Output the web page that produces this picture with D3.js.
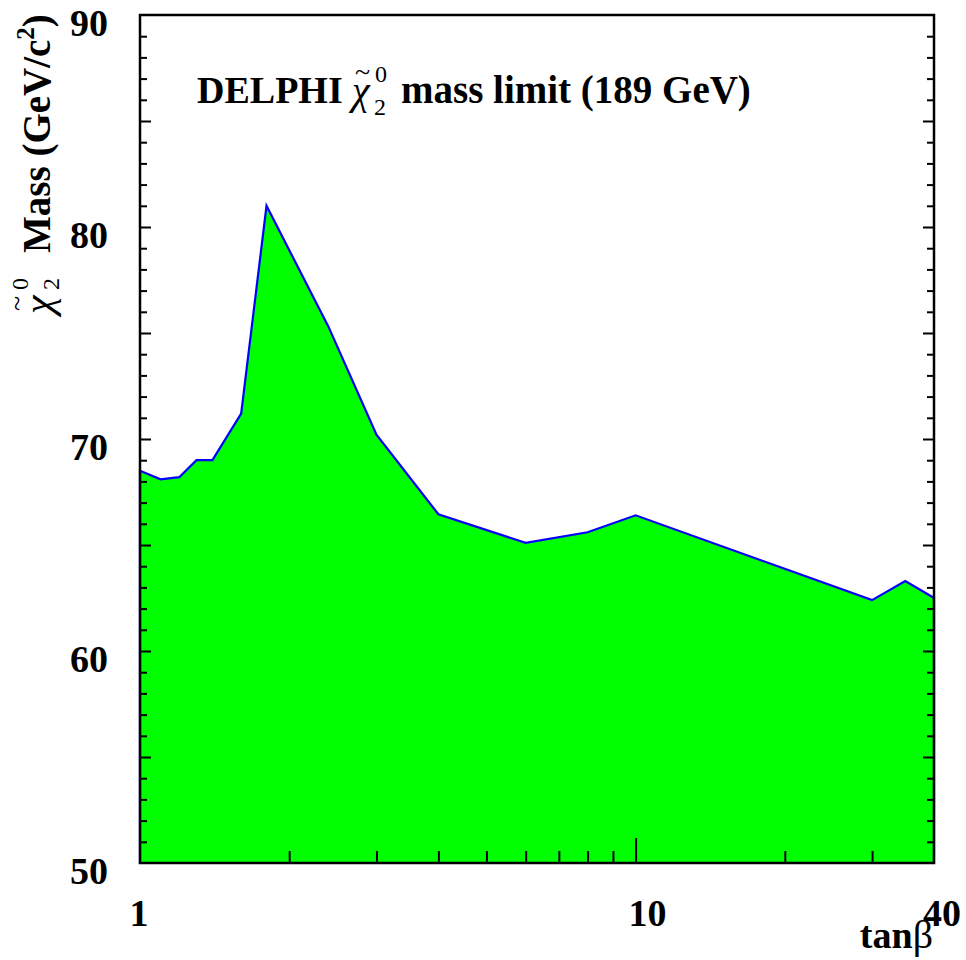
<!DOCTYPE html>
<html>
<head>
<meta charset="utf-8">
<script src="https://cdn.jsdelivr.net/npm/d3@7"></script>
<style>
  body { margin: 0; background: #fff; }
  text { font-family: 'Liberation Serif', 'Times New Roman', serif; }
</style>
</head>
<body>
<div id="chart"></div>
<script>
// chi2 mass limit vs tan(beta)
const tanBeta = [1, 1.1, 1.2, 1.3, 1.4, 1.6, 1.8, 2.4, 3, 4, 6, 8, 10, 30, 35, 40]
const massLimit = [68.5, 68.1, 68.2, 69.0, 69.0, 71.2, 81.0, 75.3, 70.2, 66.45, 65.1, 65.6, 66.4, 62.4, 63.3, 62.5]

const xMinorTicks = [2, 3, 4, 5, 6, 7, 8, 9, 20, 30]
const xMajorTicks = [10]
const xTickLabels = [1, 10, 40]
const yMajorTicks = [55, 60, 65, 70, 75, 80, 85]
const yMinorTicks = d3.range(51, 90).filter((v) => v % 5 !== 0)
const yTickLabels = [50, 60, 70, 80, 90]

const width = 966
const height = 960
const margin = { top: 15, right: 32, bottom: 97, left: 140 }

const svg = d3
  .select('#chart')
  .append('svg')
  .attr('width', width)
  .attr('height', height)

svg.append('rect').attr('width', width).attr('height', height).attr('fill', '#fff')

const x = d3
  .scaleLog()
  .domain([1, 40])
  .range([margin.left, width - margin.right])
const y = d3
  .scaleLinear()
  .domain([50, 90])
  .range([height - margin.bottom, margin.top])

const data = tanBeta.map((t, i) => ({ t, m: massLimit[i] }))

const area = d3
  .area()
  .x((d) => x(d.t))
  .y0(y(50))
  .y1((d) => y(d.m))

svg
  .append('path')
  .datum(data)
  .attr('d', area)
  .attr('fill', '#00ff00')
  .attr('stroke', '#0000ff')
  .attr('stroke-width', 2.2)

// ticks, all pointing into the frame
const tickAxis = (axis, values, size) =>
  axis.tickValues(values).tickSize(size).tickFormat('')

const drawTicks = (axis, tx, ty) => {
  const g = svg
    .append('g')
    .attr('transform', `translate(${tx},${ty})`)
    .call(axis)
  g.select('.domain').remove()
  g.selectAll('line').attr('stroke', '#000').attr('stroke-width', 2)
}

drawTicks(tickAxis(d3.axisRight(y), yMajorTicks, 11), x(1), 0)
drawTicks(tickAxis(d3.axisRight(y), yMinorTicks, 7), x(1), 0)
drawTicks(tickAxis(d3.axisLeft(y), yMajorTicks, 11), x(40), 0)
drawTicks(tickAxis(d3.axisLeft(y), yMinorTicks, 7), x(40), 0)
drawTicks(tickAxis(d3.axisTop(x), xMinorTicks, 12), 0, y(50))
drawTicks(tickAxis(d3.axisTop(x), xMajorTicks, 25), 0, y(50))

// frame
svg
  .append('rect')
  .attr('x', x(1))
  .attr('y', y(90))
  .attr('width', x(40) - x(1))
  .attr('height', y(50) - y(90))
  .attr('fill', 'none')
  .attr('stroke', '#000')
  .attr('stroke-width', 2.5)

// tick labels
svg
  .append('g')
  .selectAll('text')
  .data(yTickLabels)
  .enter()
  .append('text')
  .attr('x', 108)
  .attr('y', (d) => y(d) + 21)
  .attr('text-anchor', 'end')
  .attr('font-size', 38)
  .attr('font-weight', 'bold')
  .text((d) => d)

const xLabelShift = { 1: -1, 10: 12, 40: 8 }
svg
  .append('g')
  .selectAll('text')
  .data(xTickLabels)
  .enter()
  .append('text')
  .attr('x', (d) => x(d) + xLabelShift[d])
  .attr('y', 926)
  .attr('text-anchor', 'middle')
  .attr('font-size', 38)
  .attr('font-weight', 'bold')
  .text((d) => d)

// x title
const xt = svg
  .append('text')
  .attr('x', 933)
  .attr('y', 948)
  .attr('text-anchor', 'end')
  .attr('font-size', 38)
xt.append('tspan').attr('font-weight', 'bold').text('tan')
xt.append('tspan').attr('font-size', 40).text('β')

// y title
const yt = svg.append('g').attr('transform', 'translate(50,253) rotate(-90)')
const ytText = yt.append('text').attr('font-size', 39).attr('font-weight', 'bold')
ytText.append('tspan').text('Mass (GeV/c')
ytText.append('tspan').attr('font-size', 25).attr('dy', -16).text('2')
ytText.append('tspan').attr('dy', 16).text(')')

const yChi = svg.append('g').attr('transform', 'translate(52,314) rotate(-90)')
yChi.append('text').attr('font-size', 42).attr('font-style', 'italic').text('χ')
yChi.append('text').attr('x', 3).attr('y', -26).attr('font-size', 28).text('~')
yChi.append('text').attr('x', 24).attr('y', 7).attr('font-size', 24).text('2')
yChi.append('text').attr('x', 24).attr('y', -24).attr('font-size', 24).text('0')

// title
svg
  .append('text')
  .attr('x', 197)
  .attr('y', 103)
  .attr('font-size', 38)
  .attr('font-weight', 'bold')
  .text('DELPHI')
const tChi = svg.append('g').attr('transform', 'translate(352,0)')
tChi.append('text').attr('y', 104).attr('font-size', 40).attr('font-style', 'italic').text('χ')
tChi.append('text').attr('x', 3).attr('y', 81).attr('font-size', 28).text('~')
tChi.append('text').attr('x', 22).attr('y', 115).attr('font-size', 24).text('2')
tChi.append('text').attr('x', 23).attr('y', 82).attr('font-size', 24).text('0')
svg
  .append('text')
  .attr('x', 401)
  .attr('y', 103)
  .attr('font-size', 39)
  .attr('font-weight', 'bold')
  .text('mass limit (189 GeV)')
</script>
</body>
</html>
